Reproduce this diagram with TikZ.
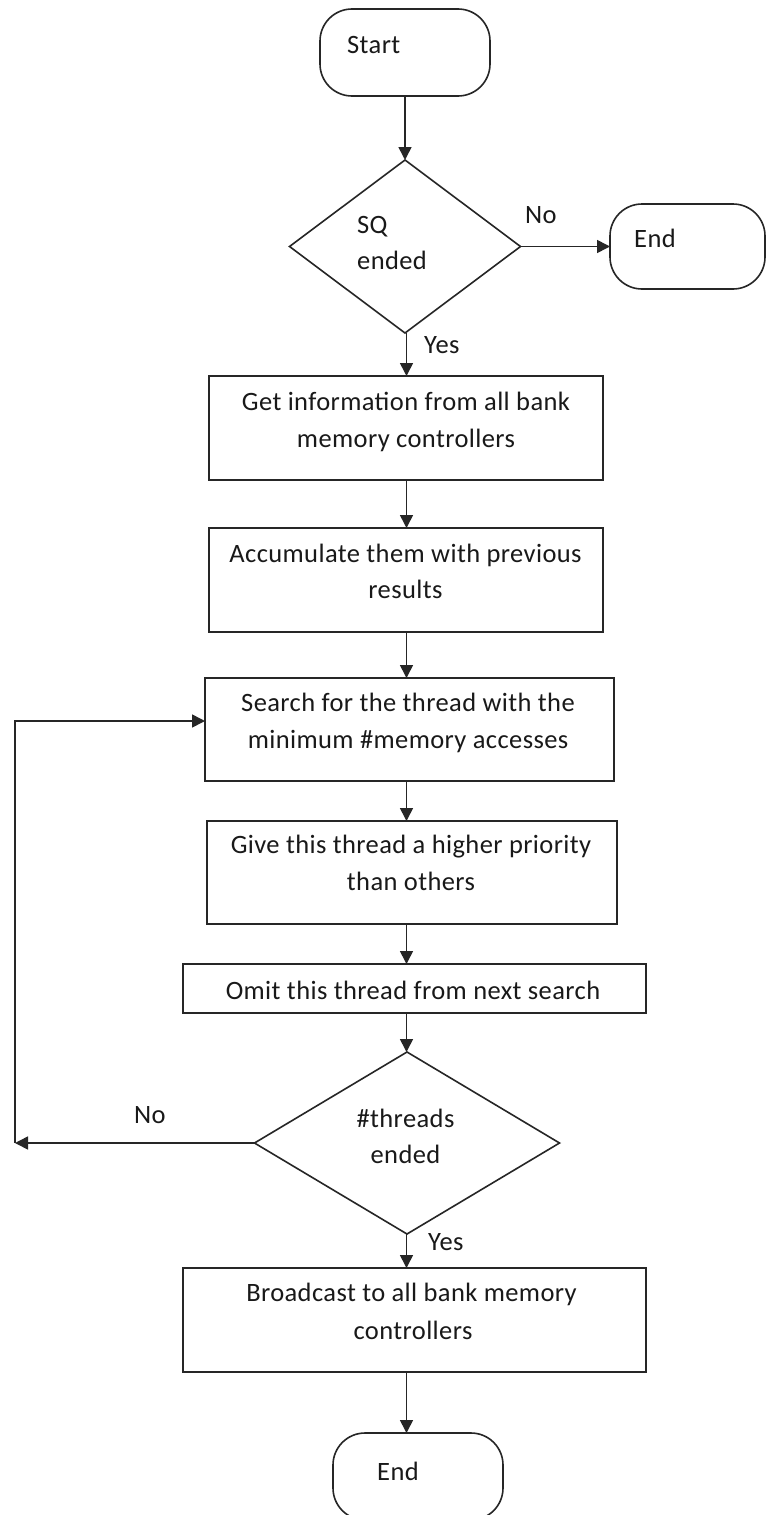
\documentclass[tikz,border=0pt]{standalone}
\usepackage{fontspec}
\setmainfont{Carlito}[LetterSpace=1.5]
\usetikzlibrary{shapes.geometric,arrows.meta}
\begin{document}
\begin{tikzpicture}[x=1pt,y=-1pt,
  line/.style={draw=black!85,line width=1.6pt},
  arr/.style={draw=black!85,line width=1.6pt,-{Triangle[length=13pt,width=13pt]}},
  terminal/.style={line,rectangle,rounded corners=32pt,inner sep=0pt,outer sep=0pt,anchor=north west},
  process/.style={line,rectangle,inner sep=0pt,outer sep=0pt,anchor=north west},
  decision/.style={line,diamond,inner sep=0pt,outer sep=0pt},
  txt/.style={text=black!90,font=\fontsize{26.5}{37.5}\selectfont,inner sep=0pt,anchor=base},
  txtl/.style={txt,anchor=base west},
]
\useasboundingbox (0,0) rectangle (767,1515);
\fill[white] (0,0) rectangle (767,1515);

% vertical spine of the main flow
\coordinate (spine) at (406.5,0);

% shapes
\node[terminal,minimum width=170pt,minimum height=87pt] (start) at (320,9) {};
\node[decision,minimum width=231pt,minimum height=173pt] (d1) at (405,246.5) {};
\node[terminal,minimum width=155pt,minimum height=85pt] (end1) at (610,204) {};
\node[process,minimum width=394pt,minimum height=104pt] (b1) at (209,376) {};
\node[process,minimum width=394pt,minimum height=104pt] (b2) at (209,528) {};
\node[process,minimum width=409pt,minimum height=103pt] (b3) at (205,678) {};
\node[process,minimum width=410pt,minimum height=103pt] (b4) at (207,821) {};
\node[process,minimum width=463pt,minimum height=49pt] (b5) at (183,964) {};
\node[decision,minimum width=305pt,minimum height=182pt] (d2) at (407,1143) {};
\node[process,minimum width=463pt,minimum height=104pt] (b6) at (183,1268) {};
\node[terminal,minimum width=170pt,minimum height=87pt] (end2) at (333,1433) {};

% texts
\node[txtl] (tstart) at (347,53) {Start};
\node[txtl] (td1a) at (357,233) {SQ};
\node[txtl] (td1b) at (357,269) {ended};
\node[txtl] (tend1) at (634,247) {End};
\node[txtl] (tno1) at (525,223) {No};
\node[txtl] (tyes1) at (424,353) {Yes};
\node[txt] (t1a) at (406,410) {Get information from all bank};
\node[txt] (t1b) at (406,447) {memory controllers};
\node[txt] (t2a) at (405.5,562) {Accumulate them with previous};
\node[txt] (t2b) at (405.5,598) {results};
\node[txt] (t3a) at (408,711.5) {Search for the thread with the};
\node[txt] (t3b) at (408,748) {minimum \#memory accesses};
\node[txt] (t4a) at (411,853) {Give this thread a higher priority};
\node[txt] (t4b) at (411,890.5) {than others};
\node[txt] (t5) at (413,999) {Omit this thread from next search};
\node[txt] (td2a) at (405.5,1127) {\#threads};
\node[txt] (td2b) at (405.5,1163) {ended};
\node[txtl] (tno2) at (134,1123) {No};
\node[txtl] (tyes2) at (428,1250.5) {Yes};
\node[txt] (t6a) at (411.5,1301) {Broadcast to all bank memory};
\node[txt] (t6b) at (413,1339) {controllers};
\node[txtl] (tend2) at (377,1480.5) {End};

% connectors
\draw[arr] (start.south) -- (start.south |- d1.north);
\draw[arr] (d1.east) -- (end1.west);
\draw[arr] (spine |- d1.south) -- (spine |- b1.north);
\draw[arr] (spine |- b1.south) -- (spine |- b2.north);
\draw[arr] (spine |- b2.south) -- (spine |- b3.north);
\draw[arr] (spine |- b3.south) -- (spine |- b4.north);
\draw[arr] (spine |- b4.south) -- (spine |- b5.north);
\draw[arr] (spine |- b5.south) -- (spine |- d2.north);
\draw[arr] (spine |- d2.south) -- (spine |- b6.north);
\draw[arr] (spine |- b6.south) -- (spine |- end2.north);

% loop back from the second decision
\coordinate (loopc) at (15,1143);
\coordinate (loopt) at (15,721);
\draw[arr] (d2.west) -- (loopc);
\draw[arr] (loopc) -- (loopt) -- (loopt -| b3.west);
\end{tikzpicture}
\end{document}
